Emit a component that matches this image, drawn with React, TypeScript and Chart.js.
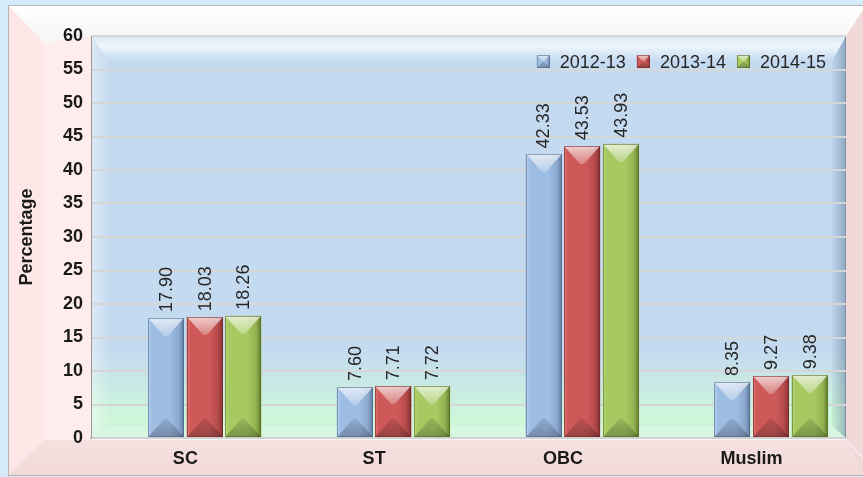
import React, { useEffect, useRef } from 'react';
import { Chart, registerables } from 'chart.js';

Chart.register(...registerables);

// ---------- data ----------
const categories = ['SC', 'ST', 'OBC', 'Muslim'];
const seriesNames = ['2012-13', '2013-14', '2014-15'];
const values2012_13 = [17.9, 7.6, 42.33, 8.35];
const values2013_14 = [18.03, 7.71, 43.53, 9.27];
const values2014_15 = [18.26, 7.72, 43.93, 9.38];
const yMin = 0;
const yMax = 60;
const yStep = 5;
const yTitle = 'Percentage';

// ---------- styles ----------
const FONT = '"Liberation Sans", Arial, Helvetica, sans-serif';
const palettes = [
  { base: '#9ebde3', light: '#bcd4f1', mid: '#8ba8cf', dark: '#617b9c', edge: 'rgba(70,95,130,0.55)' },
  { base: '#cf5959', light: '#e27272', mid: '#b64a4a', dark: '#843232', edge: 'rgba(110,35,35,0.55)' },
  { base: '#a6c962', light: '#bad874', mid: '#92b352', dark: '#627c2c', edge: 'rgba(80,100,35,0.55)' },
];

function drawBevel(ctx: CanvasRenderingContext2D, x0: number, y0: number, x1: number, y1: number, p: any) {
  const w = x1 - x0;
  const h = y1 - y0;
  if (w <= 0 || h <= 0) return;
  const d = Math.min(w / 2, h / 2);
  const xc = (x0 + x1) / 2;
  const flat = Math.min(w * 0.05, 2);
  ctx.save();
  const g = ctx.createLinearGradient(x0, 0, x1, 0);
  g.addColorStop(0, p.light);
  g.addColorStop(0.1, p.base);
  g.addColorStop(0.62, p.base);
  g.addColorStop(0.86, p.mid);
  g.addColorStop(1, p.dark);
  ctx.fillStyle = g;
  ctx.fillRect(x0, y0, w, h);
  // top face
  const gt = ctx.createLinearGradient(0, y0, 0, y0 + d);
  gt.addColorStop(0, 'rgba(255,255,255,0.7)');
  gt.addColorStop(1, 'rgba(255,255,255,0.25)');
  ctx.fillStyle = gt;
  ctx.beginPath();
  ctx.moveTo(x0, y0);
  ctx.lineTo(x1, y0);
  ctx.lineTo(xc + flat, y0 + d);
  ctx.lineTo(xc - flat, y0 + d);
  ctx.closePath();
  ctx.fill();
  // bottom face
  const gb = ctx.createLinearGradient(0, y1 - d, 0, y1);
  gb.addColorStop(0, 'rgba(0,0,0,0.1)');
  gb.addColorStop(1, 'rgba(0,0,0,0.26)');
  ctx.fillStyle = gb;
  ctx.beginPath();
  ctx.moveTo(x0, y1);
  ctx.lineTo(x1, y1);
  ctx.lineTo(xc + flat, y1 - d);
  ctx.lineTo(xc - flat, y1 - d);
  ctx.closePath();
  ctx.fill();
  ctx.strokeStyle = p.edge;
  ctx.lineWidth = 1;
  ctx.strokeRect(x0 + 0.5, y0 + 0.5, w - 1, h - 1);
  ctx.restore();
}

const backgroundPlugin = {
  id: 'bgFrame',
  beforeDraw(chart: any) {
    const { ctx, width, height, chartArea: a } = chart;
    ctx.save();
    ctx.fillStyle = '#d5ebf9';
    ctx.fillRect(0, 0, width, height);
    const fx0 = 8, fy0 = 5, fx1 = width + 10, fy1 = height - 2;
    // top wall (whole frame first)
    const gTop = ctx.createLinearGradient(0, fy0, 0, a.top);
    gTop.addColorStop(0, '#ffffff');
    gTop.addColorStop(1, '#f7f7f7');
    ctx.fillStyle = gTop;
    ctx.fillRect(fx0, fy0, fx1 - fx0, fy1 - fy0);
    // left wall
    ctx.fillStyle = '#fde7e7';
    ctx.beginPath();
    ctx.moveTo(fx0, fy0);
    ctx.lineTo(fx0 + 36, fy0 + 38);
    ctx.lineTo(fx0 + 36, a.bottom + 2);
    ctx.lineTo(fx0, fy1);
    ctx.closePath();
    ctx.fill();
    const gL = ctx.createLinearGradient(fx0 + 36, 0, a.left, 0);
    gL.addColorStop(0, '#ffeeee');
    gL.addColorStop(1, '#ffecec');
    ctx.fillStyle = gL;
    ctx.beginPath();
    ctx.moveTo(fx0 + 36, fy0 + 38);
    ctx.lineTo(a.left, a.top);
    ctx.lineTo(a.left, a.bottom + 2);
    ctx.lineTo(fx0 + 36, a.bottom + 2);
    ctx.closePath();
    ctx.fill();
    // floor
    const gF = ctx.createLinearGradient(0, a.bottom, 0, fy1);
    gF.addColorStop(0, '#f6e0e0');
    gF.addColorStop(1, '#f3dada');
    ctx.fillStyle = gF;
    ctx.beginPath();
    ctx.moveTo(fx0, fy1);
    ctx.lineTo(fx0 + 36, a.bottom + 2);
    ctx.lineTo(a.right, a.bottom + 2);
    ctx.lineTo(fx1, fy1);
    ctx.closePath();
    ctx.fill();
    // right wall
    ctx.fillStyle = '#f2d9d9';
    ctx.beginPath();
    ctx.moveTo(a.right, a.top);
    ctx.lineTo(width, a.top - 26);
    ctx.lineTo(width, fy1);
    ctx.lineTo(a.right, a.bottom);
    ctx.closePath();
    ctx.fill();
    ctx.strokeStyle = 'rgba(255,255,255,0.8)';
    ctx.lineWidth = 1;
    ctx.beginPath();
    ctx.moveTo(a.right + 1, a.bottom + 3);
    ctx.lineTo(width, a.bottom + 20);
    ctx.stroke();
    // frame border
    ctx.strokeStyle = '#b4b4b4';
    ctx.lineWidth = 1;
    ctx.strokeRect(fx0 + 0.5, fy0 + 0.5, fx1 - fx0, fy1 - fy0);

    // plot back wall
    const pg = ctx.createLinearGradient(0, a.top, 0, a.bottom);
    pg.addColorStop(0, '#c4daf1');
    pg.addColorStop(0.78, '#c4daf0');
    pg.addColorStop(0.9, '#caefdf');
    pg.addColorStop(0.95, '#cef7da');
    pg.addColorStop(1, '#c9f3d5');
    ctx.fillStyle = pg;
    ctx.fillRect(a.left, a.top, a.right - a.left, a.bottom - a.top);
    const bl = 18, bt = 25, br = 14, bb = 12;
    // top band
    const gt = ctx.createLinearGradient(0, a.top, 0, a.top + bt);
    gt.addColorStop(0, 'rgba(255,255,255,0.35)');
    gt.addColorStop(0.4, 'rgba(255,255,255,0.75)');
    gt.addColorStop(1, 'rgba(255,255,255,0)');
    ctx.fillStyle = gt;
    ctx.beginPath();
    ctx.moveTo(a.left, a.top);
    ctx.lineTo(a.right, a.top);
    ctx.lineTo(a.right - br, a.top + bt);
    ctx.lineTo(a.left + bl, a.top + bt);
    ctx.closePath();
    ctx.fill();
    // left band
    const gl = ctx.createLinearGradient(a.left, 0, a.left + bl, 0);
    gl.addColorStop(0, 'rgba(255,255,255,0.4)');
    gl.addColorStop(1, 'rgba(255,255,255,0.05)');
    ctx.fillStyle = gl;
    ctx.beginPath();
    ctx.moveTo(a.left, a.top);
    ctx.lineTo(a.left + bl, a.top + bt);
    ctx.lineTo(a.left + bl, a.bottom - bb);
    ctx.lineTo(a.left, a.bottom);
    ctx.closePath();
    ctx.fill();
    // right band
    const gr = ctx.createLinearGradient(a.right - br, 0, a.right, 0);
    gr.addColorStop(0, 'rgba(70,95,130,0.05)');
    gr.addColorStop(1, 'rgba(70,95,130,0.4)');
    ctx.fillStyle = gr;
    ctx.beginPath();
    ctx.moveTo(a.right, a.top);
    ctx.lineTo(a.right - br, a.top + bt);
    ctx.lineTo(a.right - br, a.bottom - bb);
    ctx.lineTo(a.right, a.bottom);
    ctx.closePath();
    ctx.fill();
    // bottom band
    ctx.fillStyle = 'rgba(255,255,255,0.25)';
    ctx.beginPath();
    ctx.moveTo(a.left, a.bottom);
    ctx.lineTo(a.left + bl, a.bottom - bb);
    ctx.lineTo(a.right - br, a.bottom - bb);
    ctx.lineTo(a.right, a.bottom);
    ctx.closePath();
    ctx.fill();
    // top / right edges
    ctx.strokeStyle = '#bdbdbd';
    ctx.beginPath();
    ctx.moveTo(a.left, a.top + 0.5);
    ctx.lineTo(a.right, a.top + 0.5);
    ctx.stroke();
    ctx.strokeStyle = '#7f8fa3';
    ctx.beginPath();
    ctx.moveTo(a.right - 0.5, a.top);
    ctx.lineTo(a.right - 0.5, a.bottom);
    ctx.stroke();
    ctx.restore();
  },
};

const barsPlugin = {
  id: 'bevelBars',
  afterDatasetsDraw(chart: any) {
    const { ctx } = chart;
    chart.data.datasets.forEach((ds: any, di: number) => {
      if (ds.paletteIndex === undefined) return;
      const meta = chart.getDatasetMeta(di);
      const p = palettes[ds.paletteIndex];
      meta.data.forEach((bar: any, i: number) => {
        const v = ds.data[i];
        if (v === null || v === undefined) return;
        const { x, y, base, width } = bar.getProps(['x', 'y', 'base', 'width'], true);
        const top = Math.min(y, base);
        const bottom = Math.max(y, base);
        drawBevel(ctx, Math.round(x - width / 2), Math.round(top), Math.round(x + width / 2), Math.round(bottom), p);
        ctx.save();
        ctx.translate(x + 1, top - 6);
        ctx.rotate(-Math.PI / 2);
        ctx.font = `18px ${FONT}`;
        ctx.fillStyle = '#262626';
        ctx.textAlign = 'left';
        ctx.textBaseline = 'middle';
        ctx.fillText(Number(v).toFixed(2), 0, 0);
        ctx.restore();
      });
    });
  },
};

const legendPlugin = {
  id: 'bevelLegend',
  afterDraw(chart: any) {
    const { ctx, chartArea: a } = chart;
    ctx.save();
    ctx.font = `18px ${FONT}`;
    const box = 13, gapBox = 10, gapItem = 11;
    const widths = seriesNames.map((s) => ctx.measureText(s).width);
    const total = widths.reduce((s, w) => s + box + gapBox + w, 0) + gapItem * (seriesNames.length - 1);
    let x = a.right - 20 - total;
    const cy = a.top + 26;
    seriesNames.forEach((name, i) => {
      drawBevel(ctx, x, cy - 7, x + box, cy - 7 + box, palettes[i]);
      ctx.fillStyle = '#262626';
      ctx.textAlign = 'left';
      ctx.textBaseline = 'middle';
      ctx.fillText(name, x + box + gapBox, cy + 1);
      x += box + gapBox + widths[i] + gapItem;
    });
    ctx.restore();
  },
};

export default function App() {
  const ref = useRef<HTMLCanvasElement | null>(null);
  useEffect(() => {
    document.body.style.margin = '0';
    document.body.style.background = '#d5ebf9';
    if (!ref.current) return;
    const seriesValues = [values2012_13, values2013_14, values2014_15];
    const datasets: any[] = [
      // empty leading slot: reproduces the 3-D depth shift of the bar groups
      {
        label: '',
        data: categories.map(() => null),
        backgroundColor: 'rgba(0,0,0,0)',
        borderWidth: 0,
      },
      ...seriesNames.map((name, i) => ({
        label: name,
        data: seriesValues[i],
        backgroundColor: palettes[i].base,
        borderWidth: 0,
        paletteIndex: i,
      })),
    ];
    const chart = new Chart(ref.current, {
      type: 'bar',
      data: { labels: categories, datasets },
      plugins: [backgroundPlugin, barsPlugin, legendPlugin],
      options: {
        animation: false,
        responsive: false,
        maintainAspectRatio: false,
        layout: { padding: { top: 36, right: 17, bottom: 0, left: 0 } },
        datasets: { bar: { categoryPercentage: 0.82, barPercentage: 0.93 } },
        plugins: {
          legend: { display: false },
          tooltip: { enabled: false },
        },
        scales: {
          x: {
            grid: { display: false, drawTicks: false },
            border: { display: true, color: '#d0d0d0', width: 2 },
            ticks: {
              font: { family: FONT, size: 18, weight: 'bold' },
              color: '#1a1a1a',
              padding: 10,
            },
            afterFit(s: any) {
              s.height = 39;
            },
          },
          y: {
            min: yMin,
            max: yMax,
            ticks: {
              stepSize: yStep,
              padding: 8,
              font: { family: FONT, size: 18, weight: 'bold' },
              color: '#1a1a1a',
            },
            grid: { color: '#d6d6d6', lineWidth: 2, drawTicks: false },
            border: { display: true, color: '#9a9a9a', width: 1 },
            title: {
              display: true,
              text: yTitle,
              font: { family: FONT, size: 18, weight: 'bold' },
              color: '#1a1a1a',
              padding: { top: 16, bottom: 0 },
            },
            afterFit(s: any) {
              s.width = 91;
            },
          },
        },
      } as any,
    });
    return () => chart.destroy();
  }, []);
  return <canvas ref={ref} width={863} height={477} style={{ display: 'block' }} />;
}
